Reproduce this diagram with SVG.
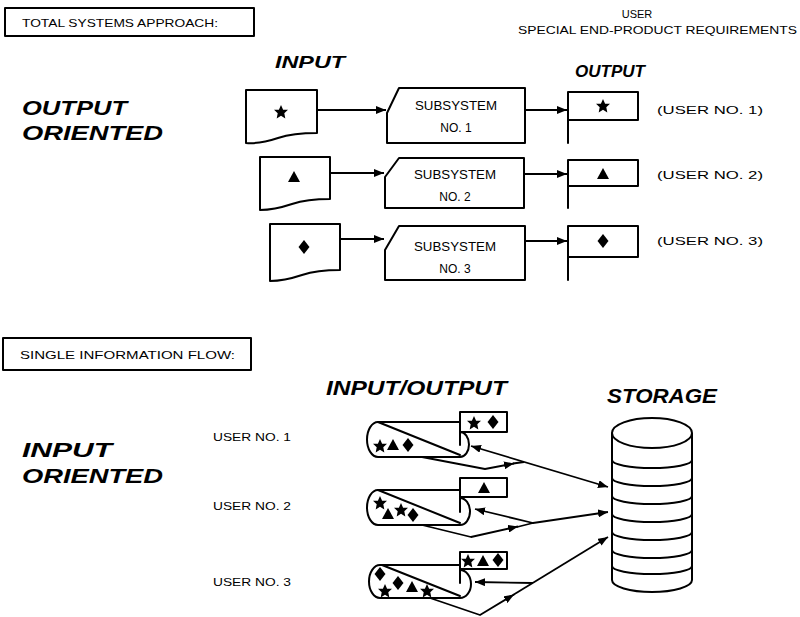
<svg xmlns="http://www.w3.org/2000/svg" width="800" height="617" viewBox="0 0 800 617">
<style>
.bg{fill:#fff}
.ln{fill:none;stroke:#000;stroke-width:2;stroke-linejoin:round;stroke-linecap:round}
.sh{fill:#fff;stroke:#000;stroke-width:2;stroke-linejoin:round}
.cn{fill:none;stroke:#000;stroke-width:1.8;stroke-linejoin:round}
.t{font-family:"Liberation Sans","DejaVu Sans",sans-serif;font-size:11px;fill:#000}
.s{font-family:"Liberation Sans","DejaVu Sans",sans-serif;font-size:12px;fill:#000}
.h{font-family:"Liberation Sans","DejaVu Sans",sans-serif;font-weight:bold;font-style:italic;fill:#000}
.sym{fill:#000}
</style>
<defs>
<marker id="ah" viewBox="0 0 10 8" refX="10" refY="4" markerWidth="10" markerHeight="8" markerUnits="userSpaceOnUse" orient="auto-start-reverse">
<path d="M0,0 L10,4 L0,8 Z" fill="#000"/>
</marker>
<polygon id="star" points="0,-7 2.1,-2.3 7,-2.2 3.3,1.3 4.3,6.4 0,3.7 -4.3,6.4 -3.3,1.3 -7,-2.2 -2.1,-2.3"/>
<polygon id="tri" points="0,-6 6,5 -6,5"/>
<polygon id="dia" points="0,-7 5.5,0 0,7 -5.5,0"/>
</defs>
<rect class="bg" x="0" y="0" width="800" height="617"/>

<g id="title-total">
<rect class="sh" x="5" y="8" width="249" height="28"/>
<text class="t" x="22" y="27" font-size="14" textLength="196" lengthAdjust="spacingAndGlyphs">TOTAL SYSTEMS APPROACH:</text>
</g>
<g id="header-user">
<text class="t" x="637" y="18" text-anchor="middle" font-size="11">USER</text>
<text class="t" x="518" y="34" font-size="12" textLength="279" lengthAdjust="spacingAndGlyphs">SPECIAL END-PRODUCT REQUIREMENTS</text>
</g>
<g id="lbl-input"><text class="h" x="275" y="68" font-size="17" textLength="70" lengthAdjust="spacingAndGlyphs">INPUT</text></g>
<g id="lbl-output"><text class="h" x="575" y="77" font-size="17" textLength="70" lengthAdjust="spacingAndGlyphs">OUTPUT</text></g>
<g id="lbl-output-oriented">
<text class="h" x="22" y="115" font-size="21" textLength="105" lengthAdjust="spacingAndGlyphs">OUTPUT</text>
<text class="h" x="22" y="140" font-size="21" textLength="141" lengthAdjust="spacingAndGlyphs">ORIENTED</text>
</g>

<!-- Row 1 -->
<g id="in1">
<path class="sh" d="M246,90 H317 V133 C300,133 290,134 278,138 C266,142 256,144 246,143 Z"/>
<use href="#star" class="sym" x="281" y="112"/>
</g>
<g id="sub1">
<path class="sh" d="M387,113 L399,88 H525 V143 H387 Z"/>
<text class="s" x="456" y="110" text-anchor="middle" textLength="82" lengthAdjust="spacingAndGlyphs">SUBSYSTEM</text>
<text class="s" x="456" y="132" text-anchor="middle">NO. 1</text>
</g>
<g id="out1">
<rect class="sh" x="568" y="92" width="70" height="28"/>
<line class="ln" x1="568" y1="120" x2="568" y2="143" stroke-width="1.5"/>
<use href="#star" class="sym" x="603" y="106"/>
</g>
<g id="user1"><text class="t" x="657" y="114" textLength="106" lengthAdjust="spacingAndGlyphs">(USER NO. 1)</text></g>

<!-- Row 2 -->
<g id="in2">
<path class="sh" d="M260,157 H330 V199 C314,199 304,200 292,204 C280,208 270,210 260,210 Z"/>
<use href="#tri" class="sym" x="294" y="177"/>
</g>
<g id="sub2">
<path class="sh" d="M385,177 L399,158 H524 V208 H385 Z"/>
<text class="s" x="455" y="179" text-anchor="middle" textLength="82" lengthAdjust="spacingAndGlyphs">SUBSYSTEM</text>
<text class="s" x="455" y="201" text-anchor="middle">NO. 2</text>
</g>
<g id="out2">
<rect class="sh" x="568" y="160" width="70" height="26"/>
<line class="ln" x1="568" y1="186" x2="568" y2="208" stroke-width="1.5"/>
<use href="#tri" class="sym" x="603" y="174"/>
</g>
<g id="user2"><text class="t" x="657" y="179" textLength="106" lengthAdjust="spacingAndGlyphs">(USER NO. 2)</text></g>

<!-- Row 3 -->
<g id="in3">
<path class="sh" d="M270,224 H340 V270 C324,270 314,271 302,275 C290,279 280,281 270,281 Z"/>
<use href="#dia" class="sym" x="304" y="247"/>
</g>
<g id="sub3">
<path class="sh" d="M385,250 L399,226 H525 V280 H385 Z"/>
<text class="s" x="455" y="251" text-anchor="middle" textLength="82" lengthAdjust="spacingAndGlyphs">SUBSYSTEM</text>
<text class="s" x="455" y="273" text-anchor="middle">NO. 3</text>
</g>
<g id="out3">
<rect class="sh" x="568" y="226" width="70" height="31"/>
<line class="ln" x1="568" y1="257" x2="568" y2="280" stroke-width="1.5"/>
<use href="#dia" class="sym" x="603" y="241"/>
</g>
<g id="user3"><text class="t" x="657" y="245" textLength="106" lengthAdjust="spacingAndGlyphs">(USER NO. 3)</text></g>

<!-- Bottom section -->
<g id="title-single">
<rect class="sh" x="3" y="338" width="248" height="32"/>
<text class="t" x="20" y="359" font-size="14" textLength="215" lengthAdjust="spacingAndGlyphs">SINGLE INFORMATION FLOW:</text>
</g>
<g id="lbl-io"><text class="h" x="326" y="395" font-size="21" textLength="181" lengthAdjust="spacingAndGlyphs">INPUT/OUTPUT</text></g>
<g id="lbl-storage"><text class="h" x="607" y="403" font-size="21" textLength="110" lengthAdjust="spacingAndGlyphs">STORAGE</text></g>
<g id="lbl-input-oriented">
<text class="h" x="22" y="457" font-size="21" textLength="90" lengthAdjust="spacingAndGlyphs">INPUT</text>
<text class="h" x="22" y="483" font-size="21" textLength="141" lengthAdjust="spacingAndGlyphs">ORIENTED</text>
</g>
<g id="ulbl1"><text class="t" x="213" y="441" font-size="12" textLength="78" lengthAdjust="spacingAndGlyphs">USER NO. 1</text></g>
<g id="ulbl2"><text class="t" x="213" y="510" font-size="12" textLength="78" lengthAdjust="spacingAndGlyphs">USER NO. 2</text></g>
<g id="ulbl3"><text class="t" x="213" y="586" font-size="12" textLength="78" lengthAdjust="spacingAndGlyphs">USER NO. 3</text></g>

<g id="io1">
<path class="sh" d="M460,422 H378 A11 17.5 0 0 0 378,457 H460 A9 12.5 0 0 0 460,432"/>
<line class="ln" x1="378" y1="422" x2="460" y2="455"/>
<line class="ln" x1="460" y1="432" x2="460" y2="445"/>
<rect class="sh" x="460" y="412" width="47" height="20"/>
<use href="#star" class="sym" x="380" y="446"/>
<use href="#tri" class="sym" x="393" y="445"/>
<use href="#dia" class="sym" x="408" y="445"/>
<use href="#star" class="sym" x="474" y="423"/>
<use href="#dia" class="sym" x="493" y="422"/>
</g>
<g id="io2">
<path class="sh" d="M460,490 H378 A11 17.5 0 0 0 378,525 H460 A10 13.5 0 0 0 460,498"/>
<line class="ln" x1="378" y1="490" x2="460" y2="523"/>
<line class="ln" x1="460" y1="497" x2="460" y2="512"/>
<rect class="sh" x="460" y="478" width="47" height="19"/>
<use href="#star" class="sym" x="380" y="503"/>
<use href="#tri" class="sym" x="388" y="514"/>
<use href="#star" class="sym" x="401" y="510"/>
<use href="#dia" class="sym" x="413" y="515"/>
<use href="#tri" class="sym" x="484" y="488"/>
</g>
<g id="io3">
<path class="sh" d="M460,565 H380 A11 16.5 0 0 0 380,598 H460 A11 14 0 0 0 460,570"/>
<line class="ln" x1="382" y1="565" x2="460" y2="596"/>
<line class="ln" x1="460" y1="569" x2="460" y2="583"/>
<rect class="sh" x="460" y="552" width="47" height="17"/>
<use href="#dia" class="sym" x="380" y="574"/>
<use href="#star" class="sym" x="385" y="591"/>
<use href="#dia" class="sym" x="398" y="583"/>
<use href="#tri" class="sym" x="412" y="587"/>
<use href="#star" class="sym" x="427" y="591"/>
<use href="#star" class="sym" x="468" y="561"/>
<use href="#tri" class="sym" x="483" y="561"/>
<use href="#dia" class="sym" x="498" y="560"/>
</g>

<g id="storage">
<path class="sh" d="M612,433 V580 A40 12 0 0 0 692,580 V433"/>
<ellipse class="sh" cx="652" cy="433" rx="40" ry="15"/>
<path class="ln" d="M612,460 A40 8 0 0 0 692,460 M612,478 A40 8 0 0 0 692,478 M612,496 A40 8 0 0 0 692,496 M612,514 A40 8 0 0 0 692,514 M612,532 A40 8 0 0 0 692,532 M612,550 A40 8 0 0 0 692,550 M612,566 A40 8 0 0 0 692,566"/>
</g>

<g id="connectors">
<line class="cn" x1="317" y1="110" x2="386" y2="110" marker-end="url(#ah)"/>
<line class="cn" x1="525" y1="110" x2="567" y2="110" marker-end="url(#ah)"/>
<line class="cn" x1="330" y1="173" x2="384" y2="173" marker-end="url(#ah)"/>
<line class="cn" x1="524" y1="174" x2="567" y2="174" marker-end="url(#ah)"/>
<line class="cn" x1="340" y1="239" x2="384" y2="239" marker-end="url(#ah)"/>
<line class="cn" x1="525" y1="241" x2="567" y2="241" marker-end="url(#ah)"/>

<line class="cn" x1="471" y1="446" x2="608" y2="487" marker-start="url(#ah)" marker-end="url(#ah)"/>
<path class="cn" d="M422,457 L485,469 L514,463.5" marker-end="url(#ah)"/>
<path class="cn" d="M513,463.5 L524,462"/>

<line class="cn" x1="533" y1="523" x2="475" y2="509" marker-end="url(#ah)"/>
<path class="cn" d="M422,525 L471,537 L518,526.5" marker-end="url(#ah)"/>
<path class="cn" d="M517,527 L533,523 L608,512" marker-end="url(#ah)"/>

<line class="cn" x1="533" y1="583" x2="475" y2="582" marker-end="url(#ah)"/>
<path class="cn" d="M430,598 L480,615 L514,594.5" marker-end="url(#ah)"/>
<path class="cn" d="M513,595 L608,537" marker-end="url(#ah)"/>
</g>
</svg>
